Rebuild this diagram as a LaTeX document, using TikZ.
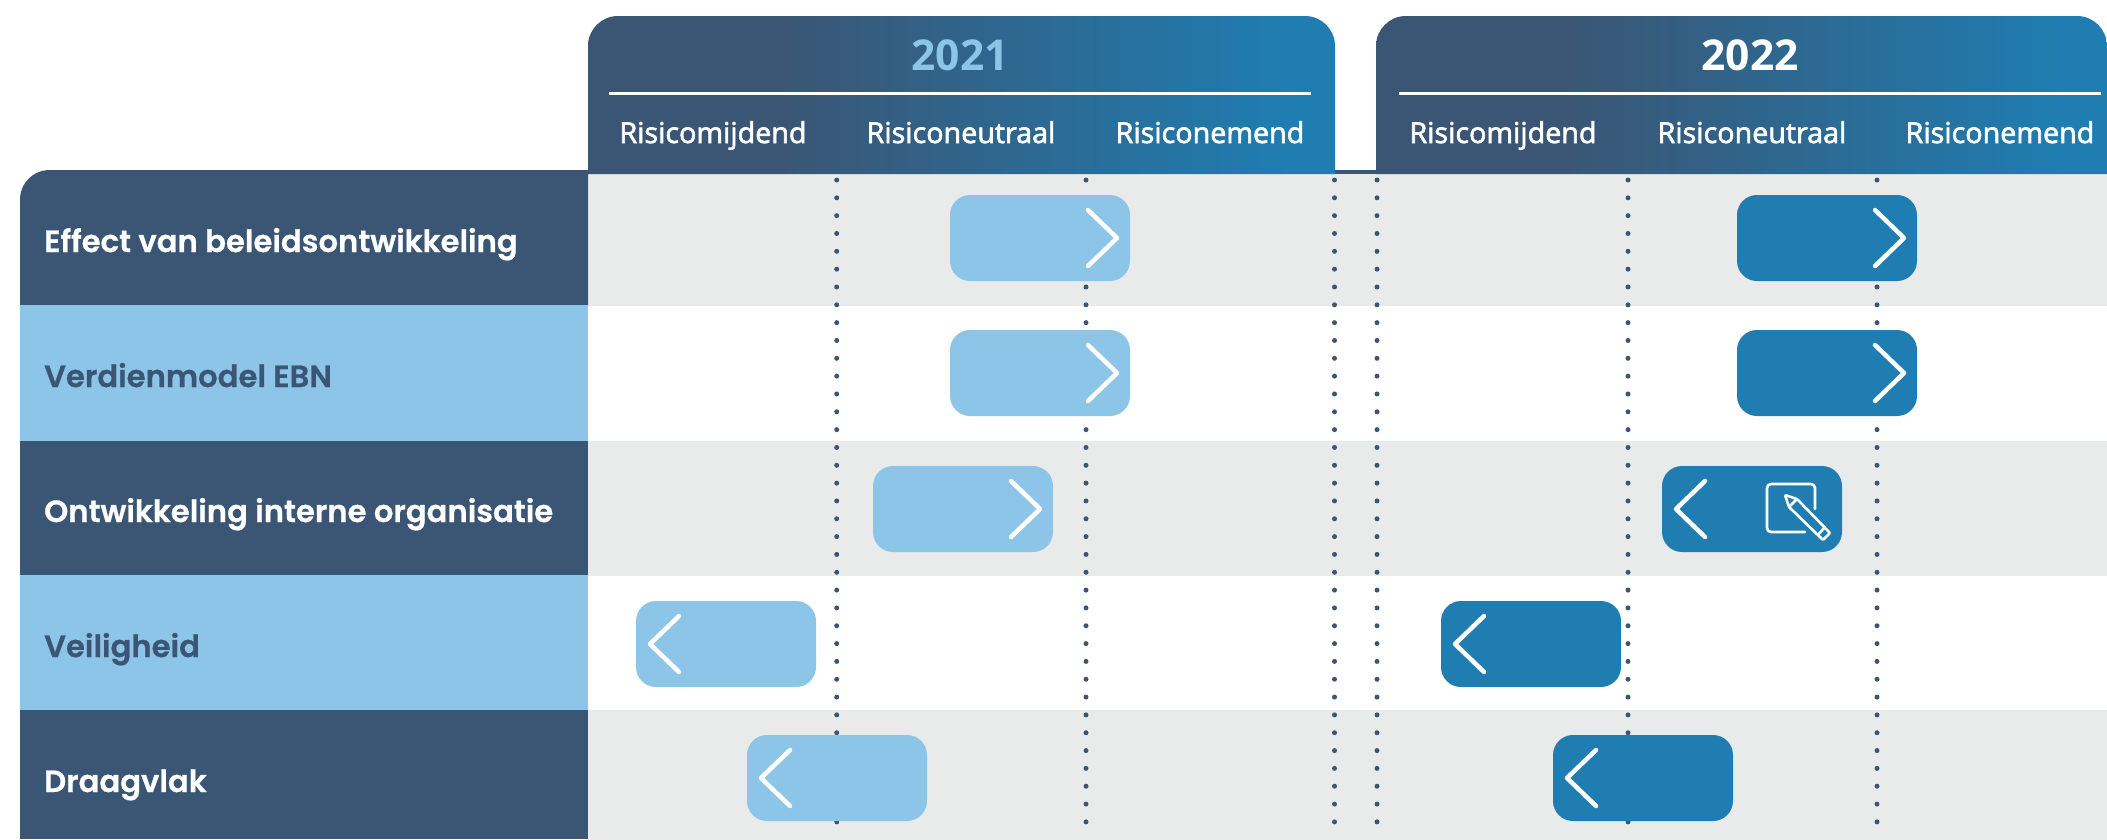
\documentclass[tikz,border=0pt]{standalone}
\usepackage{xcolor}
\usepackage{fontspec}
\setmainfont{Open Sans}
\newfontfamily\headfont[FakeBold=2.2]{Open Sans}
\newfontfamily\rowfont[BoldFont=Poppins SemiBold, BoldFeatures={FakeBold=0.7}]{Poppins}
\definecolor{navy}{HTML}{3A5674}
\definecolor{sky}{HTML}{8DC5E8}
\definecolor{ocean}{HTML}{1F7DB1}
\definecolor{band}{HTML}{E9EBEA}
\pgfdeclarehorizontalshading{headgrad}{100bp}{color(0bp)=(navy); color(38bp)=(navy); color(72bp)=(ocean); color(100bp)=(ocean)}

\begin{document}
\begin{tikzpicture}[
        x=1pt, y=-1pt,
        lane/.style={rectangle, draw=none, fill=band, minimum width=1519pt, minimum height=135pt, inner sep=0, outer sep=0, anchor=north west},
        rowname/.style={anchor=base west, inner sep=0, font=\rowfont\fontsize{30.7}{30.7}\selectfont\bfseries},
        riskname/.style={anchor=base, inner sep=0, text=white, font=\headfont\fontsize{28.7}{28.7}\selectfont},
        yearname/.style={anchor=base, inner sep=0, font=\fontsize{42.5}{42.5}\selectfont\bfseries},
        lightpill/.style={rectangle, rounded corners=20pt, fill=sky, minimum width=180pt, minimum height=86pt, inner sep=0, outer sep=0, anchor=north west},
        darkpill/.style={lightpill, fill=ocean},
        chevron/.style={draw=white, line width=4.5pt, line cap=round, line join=round},
        dotline/.style={draw=navy, line width=5pt, line cap=round, dash pattern=on 0pt off 17.83pt},
        iconline/.style={draw=white, line width=2.6pt, line cap=round, line join=round}
        ]
            \useasboundingbox (0,0) rectangle (2107,839);

            % lanes behind everything
            \node[lane] (L1) at (588,174) {};
            \node[lane, fill=white] (L2) at (588,306) {};
            \node[lane] (L3) at (588,441) {};
            \node[lane, fill=white] (L4) at (588,576) {};
            \node[lane] (L5) at (588,710) {};

            % left column
            \fill[navy] (20,305) -- (20,200) .. controls (20,183) and (33,170) .. (50,170) -- (588,170) -- (588,305) -- cycle;
            \fill[sky] (20,305) rectangle (588,441);
            \fill[navy] (20,441) rectangle (588,575);
            \fill[sky] (20,575) rectangle (588,710);
            \fill[navy] (20,710) rectangle (588,839);
            \fill[navy] (1335,170) rectangle (1376,174);

            % year headers
            \path[shading=headgrad, rounded corners=30pt] (588,174) -- (588,16) -- (1335,16) -- (1335,174) [sharp corners] -- (1335,174) -- cycle;
            \path[shading=headgrad, rounded corners=30pt] (1376,174) -- (1376,16) -- (2107,16) -- (2107,174) [sharp corners] -- (2107,174) -- cycle;
            \draw[white, line width=3pt] (609,93) -- (1311,93);
            \draw[white, line width=3pt] (1399,93) -- (2101,93);

            \node[yearname, text=sky] (Y1) at (960,70) {2021};
            \node[yearname, text=white] (Y2) at (1750,70) {2022};

            \node[riskname] (A1) at (713,143) {Risicomijdend};
            \node[riskname] (B1) at (961,143) {Risiconeutraal};
            \node[riskname] (C1) at (1210,143) {Risiconemend};
            \node[riskname] (A2) at (1503,143) {Risicomijdend};
            \node[riskname] (B2) at (1752,143) {Risiconeutraal};
            \node[riskname] (C2) at (2000,143) {Risiconemend};

            \node[rowname, text=white] (N1) at (44,252) {Effect van beleidsontwikkeling};
            \node[rowname, text=navy] (N2) at (44,387) {Verdienmodel EBN};
            \node[rowname, text=white] (N3) at (44,522) {Ontwikkeling interne organisatie};
            \node[rowname, text=navy] (N4) at (44,657) {Veiligheid};
            \node[rowname, text=white] (N5) at (44,792) {Draagvlak};

            % dotted category lines
            \draw[dotline] (836.7,180) -- (836.7,823);
            \draw[dotline] (1086,180) -- (1086,823);
            \draw[dotline] (1334.5,180) -- (1334.5,823);
            \draw[dotline] (1377,180) -- (1377,823);
            \draw[dotline] (1628,180) -- (1628,823);
            \draw[dotline] (1877,180) -- (1877,823);

            % pills
            \node[lightpill] (P1) at (950,195) {};
            \node[lightpill] (P2) at (950,330) {};
            \node[lightpill] (P3) at (873,466) {};
            \node[lightpill] (P4) at (636,601) {};
            \node[lightpill] (P5) at (747,735) {};
            \node[darkpill] (Q1) at (1737,195) {};
            \node[darkpill] (Q2) at (1737,330) {};
            \node[darkpill] (Q3) at (1662,466) {};
            \node[darkpill] (Q4) at (1441,601) {};
            \node[darkpill] (Q5) at (1553,735) {};

            \draw[chevron] ([shift={(-42,28)}]P1.east) -- ([xshift=-13pt]P1.east) -- ([shift={(-42,-28)}]P1.east);
            \draw[chevron] ([shift={(-42,28)}]P2.east) -- ([xshift=-13pt]P2.east) -- ([shift={(-42,-28)}]P2.east);
            \draw[chevron] ([shift={(-42,28)}]P3.east) -- ([xshift=-13pt]P3.east) -- ([shift={(-42,-28)}]P3.east);
            \draw[chevron] ([shift={(43,28)}]P4.west) -- ([xshift=14pt]P4.west) -- ([shift={(43,-28)}]P4.west);
            \draw[chevron] ([shift={(43,28)}]P5.west) -- ([xshift=14pt]P5.west) -- ([shift={(43,-28)}]P5.west);
            \draw[chevron] ([shift={(-42,28)}]Q1.east) -- ([xshift=-13pt]Q1.east) -- ([shift={(-42,-28)}]Q1.east);
            \draw[chevron] ([shift={(-42,28)}]Q2.east) -- ([xshift=-13pt]Q2.east) -- ([shift={(-42,-28)}]Q2.east);
            \draw[chevron] ([shift={(43,28)}]Q3.west) -- ([xshift=14pt]Q3.west) -- ([shift={(43,-28)}]Q3.west);
            \draw[chevron] ([shift={(43,28)}]Q4.west) -- ([xshift=14pt]Q4.west) -- ([shift={(43,-28)}]Q4.west);
            \draw[chevron] ([shift={(43,28)}]Q5.west) -- ([xshift=14pt]Q5.west) -- ([shift={(43,-28)}]Q5.west);

            % pencil icon
            \draw[iconline, rounded corners=4pt] (1815,509) -- (1815,484) -- (1767,484) -- (1767,532) -- (1805,532);
            \draw[iconline, rounded corners=1pt] (1785,495) -- (1797,499) -- (1830,533) -- (1823,540) -- (1789,507) -- cycle;
            \draw[iconline] (1797,499) -- (1789,507);
            \draw[iconline] (1825,527) -- (1818,535);
        \end{tikzpicture}
\end{document}
